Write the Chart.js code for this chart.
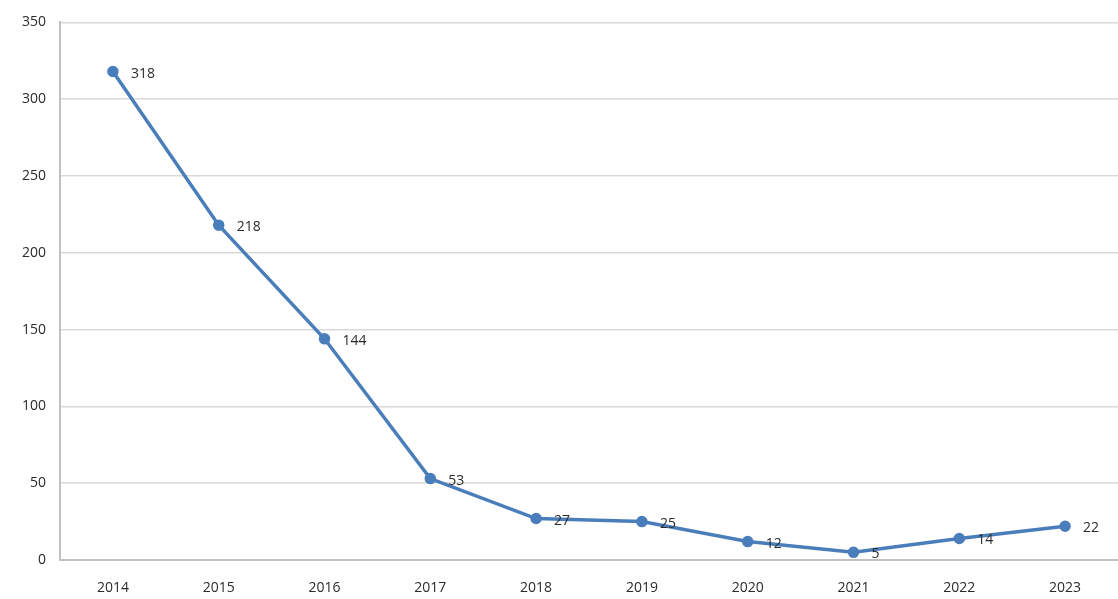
<!DOCTYPE html>
<html>
<head>
<meta charset="utf-8">
<script src="https://cdn.jsdelivr.net/npm/chart.js@4"></script>
<style>
  html, body { margin: 0; padding: 0; background: #fff; }
  #wrap { width: 1118px; height: 599px; }
</style>
</head>
<body>
<div id="wrap"><canvas id="myChart" width="1118" height="599"></canvas></div>
<script>
const years = ["2014", "2015", "2016", "2017", "2018", "2019", "2020", "2021", "2022", "2023"];
const counts = [318, 218, 144, 53, 27, 25, 12, 5, 14, 22];
const yMax = 350;
const yStep = 50;

// draw the value next to each point
const valueLabels = {
  id: "valueLabels",
  afterDatasetsDraw(chart) {
    const ctx = chart.ctx;
    const meta = chart.getDatasetMeta(0);
    ctx.save();
    ctx.font = "14px 'Open Sans', 'Liberation Sans', sans-serif";
    ctx.fillStyle = "#2b2b2b";
    ctx.textAlign = "left";
    ctx.textBaseline = "middle";
    meta.data.forEach((pt, i) => {
      ctx.fillText(String(counts[i]), pt.x + 18, pt.y + 2);
    });
    ctx.restore();
  },
};

const ctx = document.getElementById("myChart");
new Chart(ctx, {
  type: "line",
  data: {
    labels: years,
    datasets: [
      {
        data: counts,
        borderColor: "#4a7ebb",
        backgroundColor: "#4a7ebb",
        borderWidth: 3.5,
        pointRadius: 4,
        pointHoverRadius: 4,
        tension: 0,
      },
    ],
  },
  options: {
    responsive: false,
    animation: false,
    layout: { autoPadding: false, padding: { top: 20, right: 0, left: 0, bottom: 0 } },
    plugins: {
      legend: { display: false },
      tooltip: { enabled: false },
    },
    scales: {
      x: {
        offset: true,
        grid: { display: false },
        border: { display: true, color: "#c0c0c0", width: 2 },
        ticks: {
          color: "#2b2b2b",
          padding: 12,
          font: { family: "'Open Sans', 'Liberation Sans', sans-serif", size: 14 },
        },
        afterFit(scale) {
          scale.height = 39;
        },
      },
      y: {
        min: 0,
        max: yMax,
        ticks: {
          stepSize: yStep,
          color: "#2b2b2b",
          padding: 14,
          font: { family: "'Open Sans', 'Liberation Sans', sans-serif", size: 14 },
        },
        grid: { color: "#d9d9d9", lineWidth: 1.5, drawTicks: false },
        border: { display: true, color: "#c0c0c0", width: 2 },
        afterFit(scale) { scale.width = 60; },
      },
    },
  },
  plugins: [valueLabels],
});
</script>
</body>
</html>
